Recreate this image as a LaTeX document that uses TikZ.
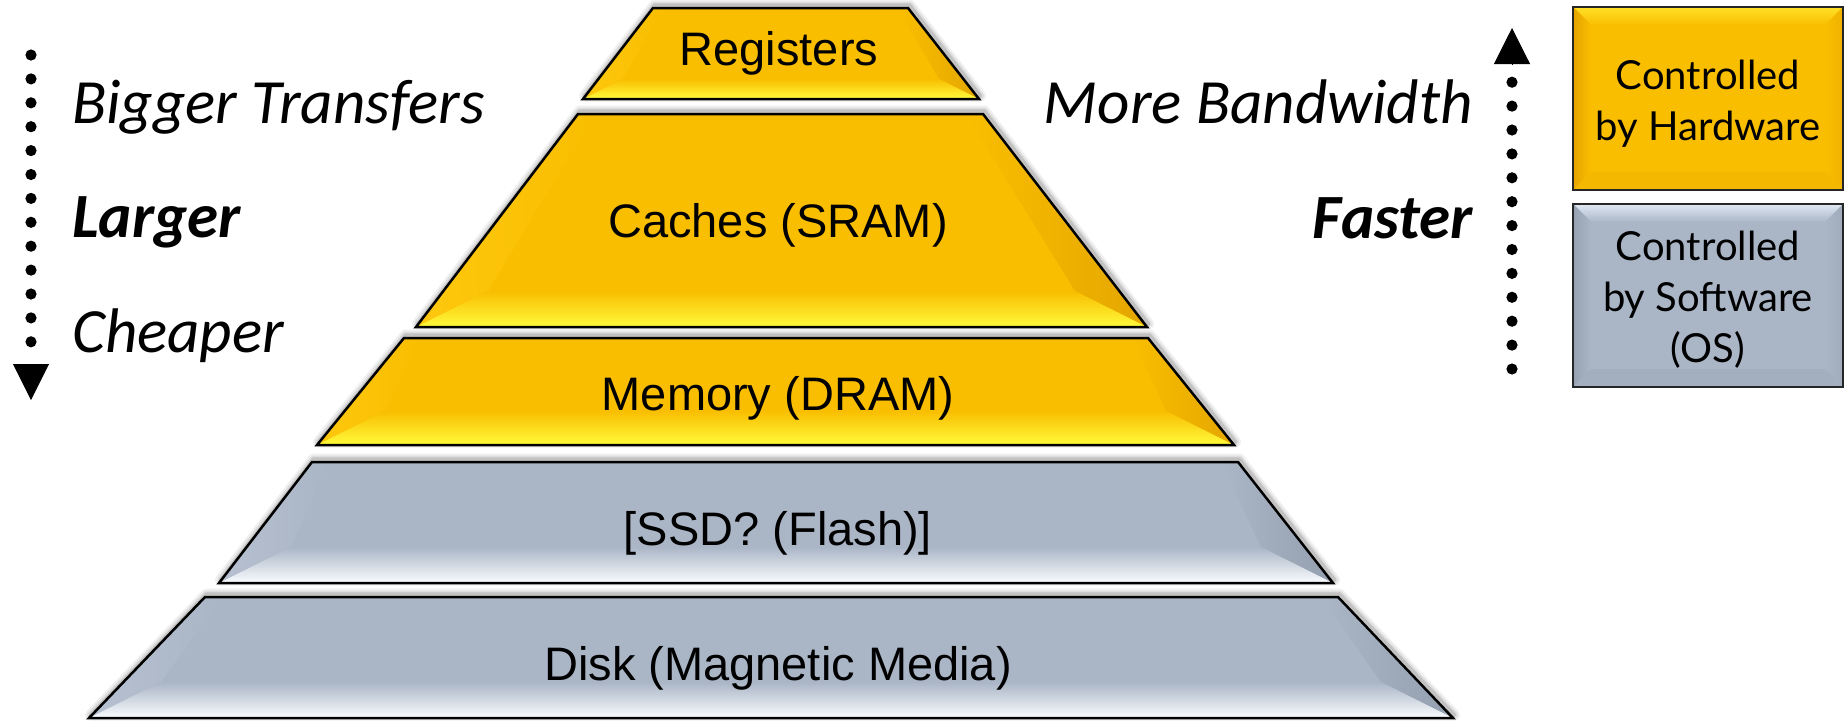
\documentclass[tikz,border=0pt]{standalone}
\usepackage{fontspec}
\setmainfont{Liberation Sans}
\newfontfamily\sidefont{Carlito}
\newfontfamily\boxfont{Lato}
\usetikzlibrary{arrows.meta,decorations.markings}

% layer colours
\definecolor{goldbase}{RGB}{249,190,0}
\definecolor{goldlight}{RGB}{255,250,60}
\definecolor{goldright}{RGB}{228,166,0}
\definecolor{goldleft}{RGB}{254,200,14}
\definecolor{greybase}{RGB}{170,181,198}
\definecolor{greylight}{RGB}{250,252,255}
\definecolor{greyright}{RGB}{148,159,176}
\definecolor{greyleft}{RGB}{182,192,208}
% legend box bevels
\definecolor{goldtop}{RGB}{255,224,40}
\definecolor{goldboxleft}{RGB}{230,164,0}
\definecolor{goldboxright}{RGB}{240,178,0}
\definecolor{goldboxbottom}{RGB}{244,184,0}
\definecolor{greytop}{RGB}{224,232,244}
\definecolor{greyboxleft}{RGB}{150,161,178}
\definecolor{greyboxright}{RGB}{160,171,188}
\definecolor{greyboxbottom}{RGB}{163,174,191}

\tikzset{
  layeredge/.style={draw=black, line width=2.5pt, line join=miter},
  softshadow/.style={draw=black!#1, line join=round},
  layertext/.style={anchor=base, inner sep=0pt, font=\fontsize{47}{47}\selectfont},
  sidetext/.style={inner sep=0pt, font=\sidefont\itshape\fontsize{63}{63}\selectfont},
  sidebold/.style={inner sep=0pt, font=\sidefont\bfseries\itshape\fontsize{63}{63}\selectfont},
  dotline/.style={decorate, decoration={markings,
      mark=between positions 0 and 1 step 23.9pt with {\fill[black] (0,0) circle (5.6pt);}}},
  tiponly/.style={draw=black, line width=1pt,
      -{Triangle[width=36pt,length=36pt,fill=black]}},
  boxedge/.style={draw=black!85, line width=2.5pt},
  boxtext/.style={align=center, inner sep=0pt, font=\boxfont\fontsize{40}{51}\selectfont},
}

% one bevelled layer of the pyramid:
% #1 colour scheme, #2 top-left x, #3 top-right x, #4 top y,
% #5 bottom-left x, #6 bottom-right x, #7 bottom y, #8 bevel depth
\newcommand\pyrlayer[8]{%
  \begin{scope}[shift={(1.5,-3)}]
    \draw[softshadow=6, line width=11pt] (#2,#4) -- (#3,#4) -- (#6,#7) -- (#5,#7) -- cycle;
    \draw[softshadow=13, line width=7pt] (#2,#4) -- (#3,#4) -- (#6,#7) -- (#5,#7) -- cycle;
    \draw[softshadow=24, line width=3.5pt] (#2,#4) -- (#3,#4) -- (#6,#7) -- (#5,#7) -- cycle;
  \end{scope}
  \fill[#1base] (#2,#4) -- (#3,#4) -- (#6,#7) -- (#5,#7) -- cycle;
  \begin{scope}
    \clip (#2,#4) -- (#3,#4) -- (#6,#7) -- (#5,#7) -- cycle;
    \shade[left color=#1left, right color=#1base]
      (#2,#4) -- ({#2+0.42*#8},{#4+3}) -- ({#5+2*#8},{#7-#8}) -- (#5,#7) -- cycle;
    \shade[left color=#1base, right color=#1right]
      (#3,#4) -- ({#3-0.42*#8},{#4+3}) -- ({#6-2*#8},{#7-#8}) -- (#6,#7) -- cycle;
    \shade[top color=#1base, bottom color=#1light]
      ({#5+2*#8},{#7-#8}) -- ({#6-2*#8},{#7-#8}) -- (#6,#7) -- (#5,#7) -- cycle;
  \end{scope}
  \draw[layeredge] (#2,#4) -- (#3,#4) -- (#6,#7) -- (#5,#7) -- cycle;
}

% bevelled legend box: #1 colour scheme, #2 x1, #3 y1, #4 x2, #5 y2
\newcommand\bevelbox[5]{%
  \fill[#1base] (#2,#3) rectangle (#4,#5);
  \shade[top color=#1top, bottom color=#1base]
    (#2,#3) -- (#4,#3) -- ({#4-18},{#3+18}) -- ({#2+18},{#3+18}) -- cycle;
  \shade[left color=#1boxleft, right color=#1base]
    (#2,#3) -- ({#2+18},{#3+18}) -- ({#2+18},{#5-18}) -- (#2,#5) -- cycle;
  \shade[left color=#1base, right color=#1boxright]
    (#4,#3) -- ({#4-18},{#3+18}) -- ({#4-18},{#5-18}) -- (#4,#5) -- cycle;
  \fill[#1boxbottom]
    (#2,#5) -- ({#2+18},{#5-18}) -- ({#4-18},{#5-18}) -- (#4,#5) -- cycle;
  \draw[boxedge] (#2,#3) rectangle (#4,#5);
}

\begin{document}
\begin{tikzpicture}[x=1pt, y=-1pt]
  \fill[white] (0,0) rectangle (1845,721);
  \useasboundingbox (0,0) rectangle (1845,721);

  % memory hierarchy pyramid
  \pyrlayer{gold}{653}{908}{8}{583}{979}{99}{20}
  \pyrlayer{gold}{578}{983}{114}{416}{1147}{327}{36}
  \pyrlayer{gold}{404}{1148}{338}{317}{1234}{445}{34}
  \pyrlayer{grey}{312}{1238}{462}{219}{1333}{583}{36}
  \pyrlayer{grey}{205}{1338}{597}{89}{1453}{718}{36}

  \node[layertext] (registers) at (779,65) {Registers};
  \node[layertext] (caches) at (778,237) {Caches (SRAM)};
  \node[layertext] (memory) at (778,410) {Memory (DRAM)};
  \node[layertext] (ssd) at (778,545) {[SSD? (Flash)]};
  \node[layertext] (disk) at (778,680) {Disk (Magnetic Media)};

  % left side: going down the hierarchy
  \coordinate (downstart) at (31,55);
  \coordinate (downbase) at (31,364);
  \coordinate (downtip) at (31,400);
  \path[dotline] (downstart) -- (downbase);
  \draw[tiponly] (downbase) -- (downtip);
  \node[sidetext, anchor=base west] (bigger) at (72,123) {Bigger Transfers};
  \node[sidebold, anchor=base west] (larger) at (72,237) {Larger};
  \node[sidetext, anchor=base west] (cheaper) at (72,352) {Cheaper};

  % right side: going up the hierarchy
  \coordinate (upstart) at (1512,369);
  \coordinate (upbase) at (1512,64);
  \coordinate (uptip) at (1512,28);
  \path[dotline] (upstart) -- (upbase);
  \draw[tiponly] (upbase) -- (uptip);
  \node[sidetext, anchor=base east] (bandwidth) at (1473,123) {More Bandwidth};
  \node[sidebold, anchor=base east] (faster) at (1473,238) {Faster};

  % legend
  \bevelbox{gold}{1573}{7}{1843}{190}
  \bevelbox{grey}{1573}{204}{1843}{387}
  \node[boxtext] (hwtext) at (1708,104) {Controlled\\by Hardware};
  \node[boxtext] (swtext) at (1708,300) {Controlled\\by Software\\(OS)};
\end{tikzpicture}
\end{document}
